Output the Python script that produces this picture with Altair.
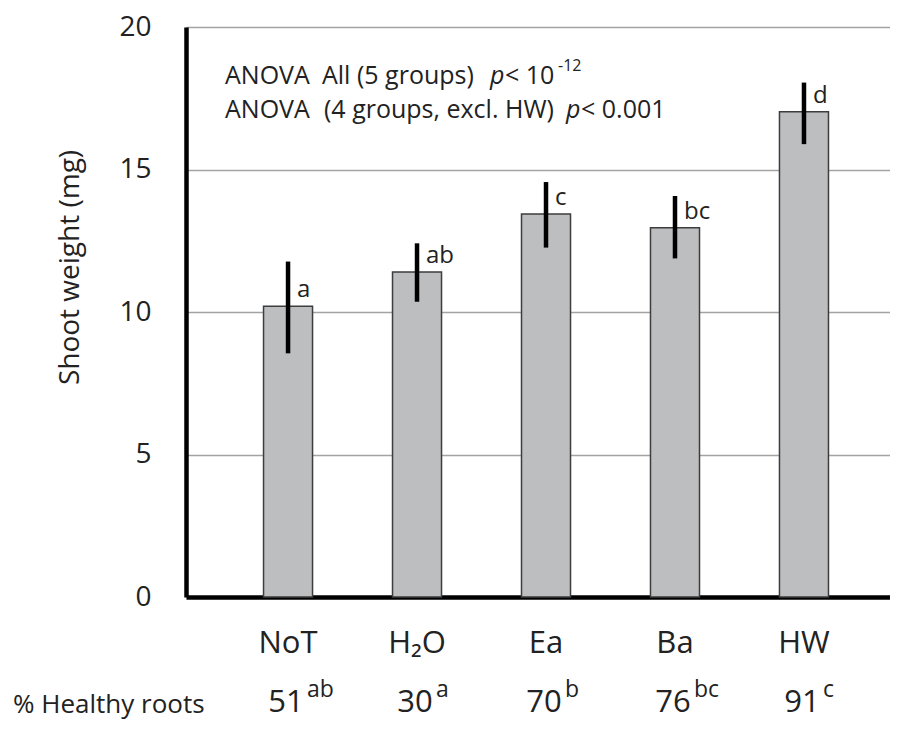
import altair as alt
import pandas as pd

# ---- data ----
groups = ["NoT", "H₂O", "Ea", "Ba", "HW"]
means = [10.2, 11.4, 13.44, 12.96, 17.03]
err_low = [8.55, 10.36, 12.26, 11.88, 15.89]
err_high = [11.77, 12.41, 14.56, 14.07, 18.05]
sig_letters = ["a", "ab", "c", "bc", "d"]
healthy_pct = ["51", "30", "70", "76", "91"]
healthy_letters = ["ab", "a", "b", "bc", "c"]

y_ticks = [0, 5, 10, 15, 20]
y_title = "Shoot weight (mg)"
row_label = "% Healthy roots"
anova1 = ["ANOVA", "All (5 groups)", "p", "< 10", "-12"]
anova2 = ["ANOVA", "(4 groups, excl. HW)", "p", "< 0.001"]

df = pd.DataFrame({
    "group": groups, "mean": means, "lo": err_low, "hi": err_high,
    "sig": sig_letters, "pct": healthy_pct, "pct_sig": healthy_letters,
})

FONT = "Open Sans"
TXT = "#222222"

xscale = alt.Scale(paddingInner=0.62, paddingOuter=0.539, align=0.5576)
yscale = alt.Scale(domain=[0, 20], nice=False, zero=True)

x_enc = alt.X("group:N", sort=groups, title=None, scale=xscale)

base = alt.Chart(df)

bars = base.mark_bar(fill="#bcbec0", stroke="#3d3d3d", strokeWidth=1.5).encode(
    x=x_enc,
    y=alt.Y("mean:Q", scale=yscale, title=y_title, axis=alt.Axis(values=y_ticks)),
)

errs = base.mark_rule(color="black", strokeWidth=4.5).encode(
    x=x_enc, y=alt.Y("lo:Q", scale=yscale, title=y_title), y2="hi:Q")

letters = base.mark_text(align="left", baseline="alphabetic", dx=9, dy=-9,
                         font=FONT, fontSize=24, color=TXT).encode(
    x=x_enc, y=alt.Y("mean:Q", scale=yscale, title=y_title), text="sig:N")

pct = base.mark_text(align="center", baseline="alphabetic", dx=-2,
                     font=FONT, fontSize=31, color=TXT).encode(
    x=x_enc, y=alt.value(685), text="pct:N")

pct_sup = base.mark_text(align="left", baseline="alphabetic", dx=19,
                         font=FONT, fontSize=23, color=TXT).encode(
    x=x_enc, y=alt.value(670), text="pct_sig:N")


def text_at(txt, px, py, size, style="normal"):
    return alt.Chart(pd.DataFrame({"t": [txt]})).mark_text(
        align="left", baseline="alphabetic", font=FONT, fontSize=size,
        fontStyle=style, color=TXT,
    ).encode(text="t:N", x=alt.value(px), y=alt.value(py))


ann = [
    text_at(anova1[0], 39, 57, 25),
    text_at(anova1[1], 136, 57, 25),
    text_at(anova1[2], 304, 57, 25, "italic"),
    text_at(anova1[3], 319, 57, 25),
    text_at(anova1[4], 372, 44, 16),
    text_at(anova2[0], 39, 91, 25),
    text_at(anova2[1], 138, 91, 25),
    text_at(anova2[2], 380, 91, 25, "italic"),
    text_at(anova2[3], 395, 91, 25),
    text_at(row_label, -173, 686, 26),
]

chart = alt.layer(bars, errs, letters, pct, pct_sup, *ann).properties(
    width=704, height=570,
    autosize=alt.AutoSizeParams(type="none"),
    padding={"left": 178, "top": 19, "right": 0, "bottom": 137},
).configure(
    background="white"
).configure_view(
    stroke="transparent"
).configure_axisX(
    domainColor="black", domainWidth=4.5, ticks=False, grid=False,
    labelFont=FONT, labelFontSize=31, labelColor=TXT,
    labelBaseline="alphabetic", labelPadding=55, labelAngle=0, zindex=1,
).configure_axisY(
    grid=True, gridColor="#a3a3a3", gridWidth=1.5, ticks=False,
    domainColor="black", domainWidth=4.5,
    labelFont=FONT, labelFontSize=28, labelColor=TXT, labelPadding=35,
    titleFont=FONT, titleFontSize=28, titleFontWeight="normal",
    titleColor=TXT, titleAngle=-90, titleAlign="center",
    titleBaseline="alphabetic", titleX=-108, titleY=240,
)

chart.save("out.html", embed_options={"renderer": "svg", "actions": False})
